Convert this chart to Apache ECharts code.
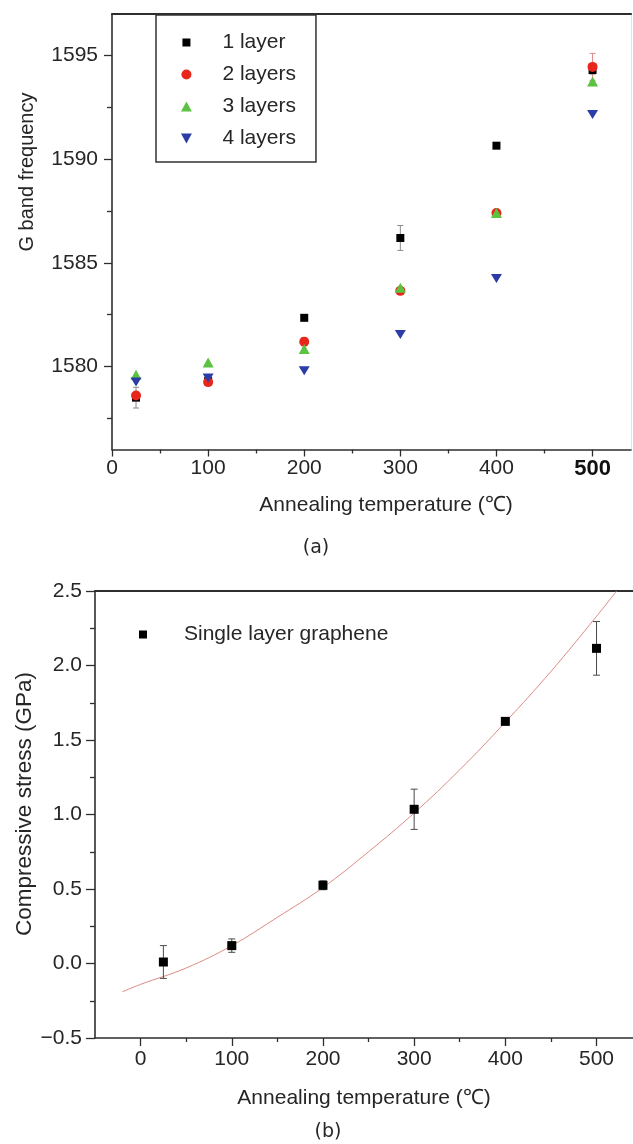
<!DOCTYPE html>
<html><head><meta charset="utf-8">
<script src="https://cdn.jsdelivr.net/npm/echarts@6/dist/echarts.min.js"></script>
<style>html,body{margin:0;padding:0;background:#fff}#c{width:633px;height:1144px}</style>
</head><body><div id="c"></div>
<script>
// ---- data: panel (a) ----
const temps = [25, 100, 200, 300, 400, 500];
const layer1 = [1578.5, 1579.3, 1582.35, 1586.2, 1590.65, 1594.3];
const layer2 = [1578.6, 1579.25, 1581.2, 1583.65, 1587.4, 1594.45];
const layer3 = [1579.6, 1580.2, 1580.85, 1583.8, 1587.4, 1593.75];
const layer4 = [1579.25, 1579.45, 1579.8, 1581.55, 1584.25, 1592.15];
const err1 = [0.5, 0, 0, 0.6, 0, 0.2];
const err2 = [0.15, 0, 0.2, 0.1, 0.05, 0.65];
const layerNames = ['1 layer', '2 layers', '3 layers', '4 layers'];
const xLabelsA = [0, 100, 200, 300, 400, 500];
const xMinorA = [50, 150, 250, 350, 450];
const yLabelsA = [1580, 1585, 1590, 1595];
const yMinorA = [1577.5, 1582.5, 1587.5, 1592.5];

// ---- data: panel (b) ----
const stressT = [25, 100, 200, 300, 400, 500];
const stress = [0.01, 0.12, 0.525, 1.035, 1.625, 2.115];
const stressErr = [0.11, 0.045, 0.03, 0.135, 0.01, 0.18];
const fitT = [-20, 0, 50, 100, 150, 200, 250, 300, 350, 400, 450, 500, 522];
const fitV = [-0.19, -0.14, -0.03, 0.12, 0.31, 0.51, 0.75, 1.01, 1.30, 1.62, 1.96, 2.33, 2.5];
const xLabelsB = [0, 100, 200, 300, 400, 500];
const xMinorB = [50, 150, 250, 350, 450];
const yLabelsB = [-0.5, 0, 0.5, 1, 1.5, 2, 2.5];
const yMinorB = [-0.25, 0.25, 0.75, 1.25, 1.75, 2.25];

const FONT = '"Liberation Sans", Arial, sans-serif';
const AX = '#2e2e2e';
const TXT = '#262626';

function ax(extra) {
  return Object.assign({
    type: 'value', scale: true,
    splitLine: { show: false },
    axisLine: { show: false, onZero: false },
    axisTick: { show: false },
    axisLabel: { show: false }
  }, extra);
}
function mainLine(w) { return { show: true, onZero: false, lineStyle: { color: AX, width: w } }; }
function ticks(vals, len) { return { show: true, inside: false, length: len, customValues: vals, lineStyle: { color: AX, width: 1.3 } }; }
function labels(vals, margin, fmt) {
  return { show: true, customValues: vals, margin: margin, fontSize: 21, fontFamily: FONT, color: TXT, formatter: fmt,
    rich: { b: { fontWeight: 'bold', fontSize: 22, fontFamily: FONT, color: '#111' } } };
}

function errRender(capW, color) {
  return function (params, api) {
    const x = api.value(0), lo = api.value(1), hi = api.value(2);
    const a = api.coord([x, hi]), b = api.coord([x, lo]);
    const st = { stroke: color, lineWidth: 1 };
    return { type: 'group', children: [
      { type: 'line', shape: { x1: a[0], y1: a[1], x2: b[0], y2: b[1] }, style: st },
      { type: 'line', shape: { x1: a[0] - capW, y1: a[1], x2: a[0] + capW, y2: a[1] }, style: st },
      { type: 'line', shape: { x1: b[0] - capW, y1: b[1], x2: b[0] + capW, y2: b[1] }, style: st }
    ] };
  };
}
function errData(xs, vs, es) {
  const out = [];
  xs.forEach((x, i) => { if (es[i]) out.push([x, vs[i] - es[i], vs[i] + es[i]]); });
  return out;
}

// legend icon shapes (tiny corner dots fix the icon box so the mark keeps its size)
const BOX = 'M0,0h0.01v0.01h-0.01ZM10,10h0.01v0.01h-0.01Z';
const ICON_SQ = 'path://' + BOX + 'M1,1h8v8h-8Z';
const ICON_UP = 'path://M0,10L5,0.8L10,10Z';
const ICON_DN = 'path://M0,0L10,0L5,9.2Z';

const layerVals = [layer1, layer2, layer3, layer4];
const layerColors = ['#000000', '#e8261c', '#5cc241', '#2c3ca6'];
const layerSymbols = ['rect', 'circle', 'triangle', 'path://M0,0L20,0L10,18Z'];
const layerSizes = [8, 10, [11, 10], [11, 10]];
const layerIcons = [ICON_SQ, 'circle', ICON_UP, ICON_DN];

const series = [];
series.push({ type: 'custom', name: 'e1', xAxisIndex: 0, yAxisIndex: 0, renderItem: errRender(3, '#8a8a8a'), encode: { x: 0, y: [1, 2] }, data: errData(temps, layer1, err1), z: 1 });
series.push({ type: 'custom', name: 'e2', xAxisIndex: 0, yAxisIndex: 0, renderItem: errRender(3, '#d88'), encode: { x: 0, y: [1, 2] }, data: errData(temps, layer2, err2), z: 1 });
layerNames.forEach((n, k) => {
  series.push({
    type: 'scatter', name: n, xAxisIndex: 0, yAxisIndex: 0,
    symbol: layerSymbols[k], symbolSize: layerSizes[k], symbolKeepAspect: true,
    itemStyle: { color: layerColors[k], opacity: 1 },
    data: temps.map((t, i) => [t, layerVals[k][i]]), z: 3 + k
  });
});
series.push({ type: 'line', name: 'fit', xAxisIndex: 3, yAxisIndex: 3, smooth: 0.4, showSymbol: false, symbol: 'none',
  clip: true, lineStyle: { color: '#dc8a82', width: 1 }, data: fitT.map((t, i) => [t, fitV[i]]), z: 2 });
series.push({ type: 'custom', name: 'eb', xAxisIndex: 3, yAxisIndex: 3, renderItem: errRender(3.5, '#4a4a4a'), encode: { x: 0, y: [1, 2] }, data: errData(stressT, stress, stressErr), z: 3 });
series.push({ type: 'scatter', name: 'Single layer graphene', xAxisIndex: 3, yAxisIndex: 3, symbol: 'rect', symbolSize: 9,
  itemStyle: { color: '#000', opacity: 1 }, data: stressT.map((t, i) => [t, stress[i]]), z: 5 });

const option = {
  animation: false,
  backgroundColor: '#fff',
  textStyle: { fontFamily: FONT },
  grid: [
    { left: 112, top: 14, right: 2, height: 435.5 },
    { left: 95, top: 591, right: 0, height: 447 }
  ],
  xAxis: [
    ax({ gridIndex: 0, position: 'bottom', min: 0, max: 540, axisLine: mainLine(1.6), axisTick: ticks(xLabelsA, 7),
      axisLabel: labels(xLabelsA, 8, v => v === 500 ? '{b|500}' : String(v)) }),
    ax({ gridIndex: 0, position: 'bottom', min: 0, max: 540, axisTick: ticks(xMinorA, 4) }),
    ax({ gridIndex: 0, position: 'top', min: 0, max: 540, axisLine: mainLine(2.2) }),
    ax({ gridIndex: 1, position: 'bottom', min: -50, max: 540, axisLine: mainLine(1.6), axisTick: ticks(xLabelsB, 8),
      axisLabel: labels(xLabelsB, 11, v => String(v)) }),
    ax({ gridIndex: 1, position: 'bottom', min: -50, max: 540, axisTick: ticks(xMinorB, 4) }),
    ax({ gridIndex: 1, position: 'top', min: -50, max: 540, axisLine: mainLine(2.2) })
  ],
  yAxis: [
    ax({ gridIndex: 0, position: 'left', min: 1576, max: 1597, axisLine: mainLine(1.6), axisTick: ticks(yLabelsA, 8),
      axisLabel: labels(yLabelsA, 14, v => String(v)) }),
    ax({ gridIndex: 0, position: 'left', min: 1576, max: 1597, axisTick: ticks(yMinorA, 5) }),
    ax({ gridIndex: 0, position: 'right', min: 1576, max: 1597, axisLine: { show: true, onZero: false, lineStyle: { color: '#e4e4e4', width: 1 } } }),
    ax({ gridIndex: 1, position: 'left', min: -0.5, max: 2.5, axisLine: mainLine(1.6), axisTick: ticks(yLabelsB, 9),
      axisLabel: labels(yLabelsB, 13, v => (v < 0 ? '\u2212' + Math.abs(v).toFixed(1) : v.toFixed(1))) }),
    ax({ gridIndex: 1, position: 'left', min: -0.5, max: 2.5, axisTick: ticks(yMinorB, 5) })
  ],
  legend: [
    { data: layerNames.map((n, k) => ({ name: n, icon: layerIcons[k] })), orient: 'vertical', left: 156, top: 15,
      itemWidth: 62, itemHeight: 10, itemGap: 11, symbolKeepAspect: true,
      padding: [17, 20, 13, 25], borderColor: '#333', borderWidth: 1.5, selectedMode: false,
      textStyle: { fontSize: 21, lineHeight: 20, color: TXT, fontFamily: FONT } },
    { data: [{ name: 'Single layer graphene', icon: ICON_SQ }], orient: 'vertical', left: 138, top: 624, itemWidth: 72, itemHeight: 10,
      symbolKeepAspect: true, padding: 0, selectedMode: false, textStyle: { fontSize: 21, lineHeight: 20, color: TXT, fontFamily: FONT } }
  ],
  graphic: [
    { type: 'text', x: 386, y: 505, style: { text: 'Annealing temperature (\u2103)', fontSize: 21, fontFamily: FONT, fill: TXT, align: 'center', verticalAlign: 'middle' } },
    { type: 'text', x: 316, y: 548, style: { text: '(a)', fontSize: 19, fontFamily: '"DejaVu Sans", sans-serif', fill: TXT, align: 'center', verticalAlign: 'middle' } },
    { type: 'text', x: 27, y: 172, rotation: Math.PI / 2, style: { text: 'G band frequency', fontSize: 20, fontFamily: FONT, fill: TXT, align: 'center', verticalAlign: 'middle' } },
    { type: 'text', x: 25, y: 804, rotation: Math.PI / 2, style: { text: 'Compressive stress (GPa)', fontSize: 22.5, fontFamily: FONT, fill: TXT, align: 'center', verticalAlign: 'middle' } },
    { type: 'text', x: 364, y: 1098, style: { text: 'Annealing temperature (\u2103)', fontSize: 21, fontFamily: FONT, fill: TXT, align: 'center', verticalAlign: 'middle' } },
    { type: 'text', x: 328, y: 1132, style: { text: '(b)', fontSize: 19, fontFamily: '"DejaVu Sans", sans-serif', fill: TXT, align: 'center', verticalAlign: 'middle' } }
  ],
  series: series
};
const chart = echarts.init(document.getElementById('c'), null, { renderer: 'canvas' });
chart.setOption(option);
</script>
</body></html>
